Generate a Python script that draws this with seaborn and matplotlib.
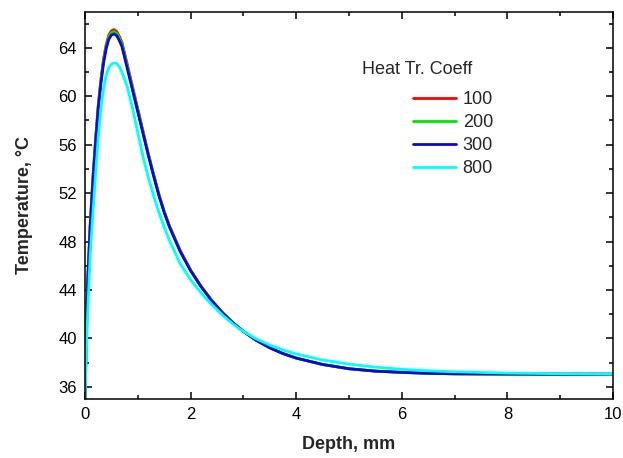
import matplotlib
matplotlib.use("Agg")
import matplotlib.pyplot as plt
import seaborn as sns
import pandas as pd
from matplotlib.ticker import MultipleLocator

depth = [0, 0.02, 0.05, 0.1, 0.15, 0.2, 0.25, 0.3, 0.35, 0.4, 0.45, 0.5, 0.55, 0.6,
         0.65, 0.7, 0.8, 0.9, 1.0, 1.1, 1.2, 1.3, 1.4, 1.5, 1.6, 1.8, 2.0, 2.2, 2.4,
         2.6, 2.8, 3.0, 3.25, 3.5, 3.75, 4.0, 4.5, 5.0, 5.5, 6.0, 6.5, 7.0, 8.0, 9.0, 10.0]

temp_100 = [35.0, 39.2, 44.7, 49.6, 53.3, 56.45, 59.25, 61.35, 63.05, 64.25, 65.05, 65.4,
            65.5, 65.35, 64.95, 64.45, 62.65, 60.8, 58.95, 57.1, 55.25, 53.55, 51.9, 50.5,
            49.3, 47.3, 45.65, 44.3, 43.14, 42.15, 41.3, 40.58, 39.83, 39.23, 38.75, 38.38,
            37.85, 37.5, 37.3, 37.2, 37.12, 37.08, 37.06, 37.05, 37.05]
temp_200 = [35.0, 39.1, 44.6, 49.45, 53.15, 56.3, 59.1, 61.2, 62.9, 64.1, 64.9, 65.25,
            65.35, 65.2, 64.8, 64.3, 62.5, 60.65, 58.85, 57.0, 55.2, 53.5, 51.85, 50.45,
            49.25, 47.25, 45.62, 44.28, 43.13, 42.14, 41.3, 40.58, 39.83, 39.23, 38.75, 38.38,
            37.85, 37.5, 37.3, 37.2, 37.12, 37.08, 37.06, 37.05, 37.05]
temp_300 = [35.0, 39.0, 44.5, 49.3, 53.0, 56.1, 58.9, 61.0, 62.7, 63.9, 64.7, 65.05,
            65.15, 65.0, 64.6, 64.1, 62.3, 60.5, 58.7, 56.9, 55.1, 53.4, 51.8, 50.4,
            49.2, 47.2, 45.6, 44.26, 43.12, 42.14, 41.3, 40.58, 39.83, 39.23, 38.75, 38.38,
            37.85, 37.5, 37.3, 37.2, 37.12, 37.08, 37.06, 37.05, 37.05]
temp_800 = [35.0, 38.0, 42.0, 47.0, 50.3, 53.5, 56.5, 58.9, 60.6, 61.7, 62.35, 62.65,
            62.75, 62.7, 62.45, 62.0, 60.8, 59.0, 57.0, 55.0, 53.3, 51.8, 50.4, 49.2,
            48.1, 46.2, 44.85, 43.75, 42.8, 41.95, 41.2, 40.58, 39.95, 39.45, 39.05, 38.72,
            38.22, 37.88, 37.63, 37.45, 37.33, 37.25, 37.14, 37.09, 37.06]

series_labels = ["100", "200", "300", "800"]
series_values = [temp_100, temp_200, temp_300, temp_800]
colors = ["#ff0000", "#00e400", "#0a0ad2", "#00ffff"]
legend_title = "Heat Tr. Coeff"
x_label = "Depth, mm"
y_label = "Temperature, °C"

rows = []
for lab, vals in zip(series_labels, series_values):
    for d, t in zip(depth, vals):
        rows.append({"Depth": d, "Temp": t, "Coeff": lab})
df = pd.DataFrame(rows)

sns.set_style("ticks")
plt.rcParams["font.family"] = ["Liberation Sans", "DejaVu Sans"]

fig = plt.figure(figsize=(6.23, 4.58), dpi=100)
ax = fig.add_axes([85 / 623, 1 - 399 / 458, (613 - 85) / 623, (399 - 11.5) / 458])

sns.lineplot(data=df, x="Depth", y="Temp", hue="Coeff", palette=colors,
             hue_order=series_labels, estimator=None, sort=False,
             linewidth=2.0, ax=ax, legend=True)

ax.set_xlim(0, 10)
ax.set_ylim(35, 67)
ax.xaxis.set_major_locator(MultipleLocator(2))
ax.xaxis.set_minor_locator(MultipleLocator(1))
ax.yaxis.set_major_locator(MultipleLocator(4))
ax.yaxis.set_minor_locator(MultipleLocator(2))
ax.set_yticks([36, 40, 44, 48, 52, 56, 60, 64])
ax.tick_params(which="both", direction="in", top=True, right=True, width=1.1,
               labelsize=12, colors="#000000")
ax.tick_params(which="major", length=5, pad=6)
ax.tick_params(which="minor", length=2.6)
for s in ax.spines.values():
    s.set_linewidth(1.1)
    s.set_color("#000000")

ax.set_xlabel(x_label, fontsize=13, fontweight="bold", labelpad=10)
ax.set_ylabel(y_label, fontsize=13, fontweight="bold", labelpad=18)

handles, labels = ax.get_legend_handles_labels()
for h in handles:
    h.set_linewidth(2.0)
ax.legend(handles, labels, loc="upper left",
          bbox_to_anchor=(413 / 623, 1 - 91 / 458), bbox_transform=fig.transFigure,
          frameon=False, fontsize=13, handlelength=2.4, handletextpad=0.35,
          labelspacing=0.33, borderpad=0, borderaxespad=0)
fig.text(362 / 623, 1 - 69 / 458, legend_title, fontsize=13, ha="left", va="center")

fig.savefig("out.png", dpi=100)
